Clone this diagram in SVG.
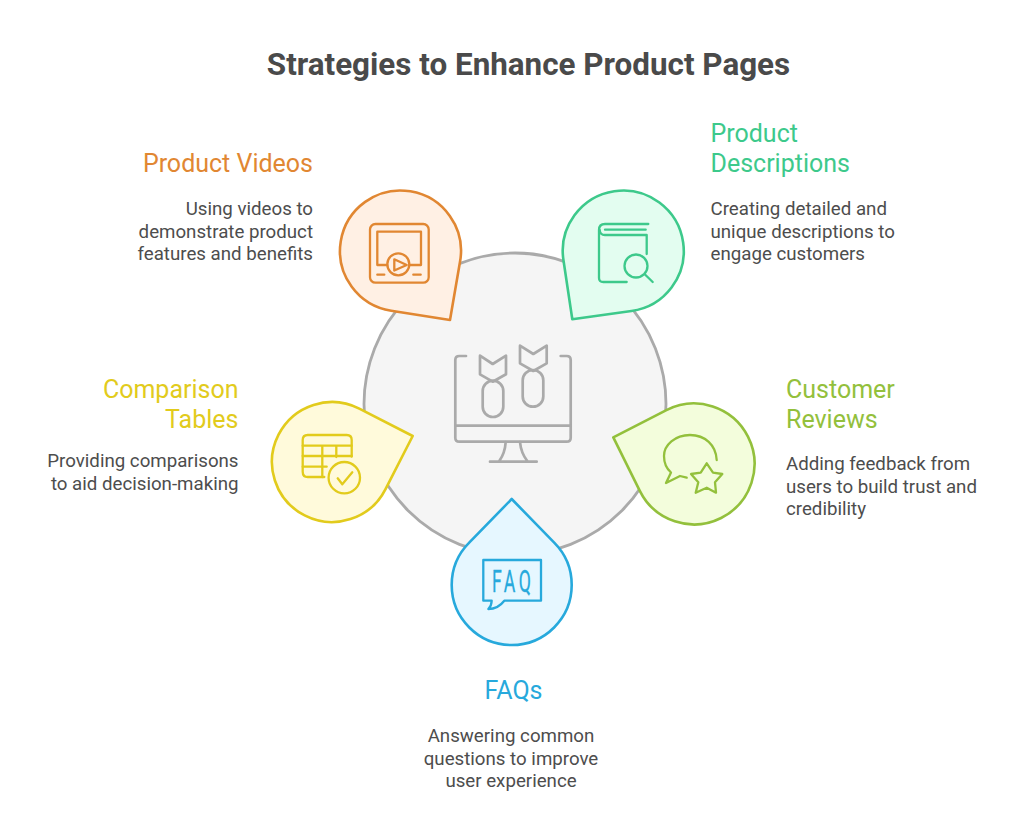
<svg xmlns="http://www.w3.org/2000/svg" width="1024" height="828" viewBox="0 0 1024 828">
<style>
text{font-family:Roboto,"Liberation Sans",sans-serif}
.title{font-size:31.4px;font-weight:700;fill:#4a4a4a}
.h{font-size:25px;font-weight:400}
.b{font-size:18.7px;fill:#4d4d4d}
.e{text-anchor:end}
.m{text-anchor:middle}
.p{stroke-width:2.6;stroke-linejoin:round}
.ic{fill:none;stroke-width:2.3;stroke-linecap:round;stroke-linejoin:round}
.o{stroke:#e18732}.g{stroke:#3dc98b}.y{stroke:#e2cb1c}.l{stroke:#93c03c}.c{stroke:#27a9dc}.n{stroke:#aaaaaa}
</style>
<rect width="1024" height="828" fill="#ffffff"/>
<text class="title" x="528.5" y="75" text-anchor="middle">Strategies to Enhance Product Pages</text>
<g id="center">
<circle cx="515" cy="404" r="151" fill="#f5f5f5" stroke="#aaaaaa" stroke-width="2.8"/>
<g class="ic n" style="stroke-width:2.7">
<path d="M466 356H459.3Q455.3 356 455.3 360V437.7Q455.3 441.7 459.3 441.7H566.7Q570.7 441.7 570.7 437.7V360Q570.7 356 566.7 356H560.7"/>
<path d="M455.3 425.7H570.7M505.7 442Q505 453 499.3 461M520 442Q521 453 527.3 461M490 461.7H536.7"/>
<rect x="482.7" y="380.7" width="20.6" height="36.3" rx="10.3"/>
<path d="M480 355.7L492.7 364L506 355.7V374.3L492.7 381.7L480 374.3Z"/>
<rect x="522.7" y="370" width="20.6" height="36.7" rx="10.3"/>
<path d="M520 345.7L533.3 354L546.7 345.7V363.3L533.3 371L520 363.3Z"/>
</g>
</g>
<g id="product-videos">
<path class="p" d="M460.1 261.3A60.5 60.5 0 1 0 391.2 310.8L450 320Z" fill="#fff0e4" stroke="#e18732"/>
<g class="ic o">
<rect x="370" y="224" width="58.7" height="58.7" rx="5.5"/>
<path d="M387.3 265H377.3V231.7H421V265H409.5"/>
<circle cx="398.3" cy="264.3" r="11"/>
<path d="M394.3 259.3L406.7 265L394.3 270.5Z"/>
<path d="M377.3 274.7H384.3M413.3 274.7H420.7"/>
</g>
<text class="h e" x="313" y="171.7" fill="#e18732">Product Videos</text>
<text class="b e" x="313" y="215">Using videos to</text>
<text class="b e" x="313" y="237.5">demonstrate product</text>
<text class="b e" x="313" y="260">features and benefits</text>
</g>
<g id="product-descriptions">
<path class="p" d="M631.4 311A60.5 60.5 0 1 0 563.5 260.5L572.3 319.3Z" fill="#e3fdf0" stroke="#3dc98b"/>
<g class="ic g">
<path d="M648.3 224H605Q599 224 599 230V278Q599 282 603.3 282H626.7"/>
<path d="M645.7 229.7H605M599.7 230Q600 235 605 235H646.7V254"/>
<circle cx="636" cy="266" r="11.5"/>
<path d="M645 274.5L652.7 282"/>
</g>
<text class="h" x="710.5" y="141.7" fill="#3dc98b">Product</text>
<text class="h" x="710.5" y="171.7" fill="#3dc98b">Descriptions</text>
<text class="b" x="710.5" y="215">Creating detailed and</text>
<text class="b" x="710.5" y="237.5">unique descriptions to</text>
<text class="b" x="710.5" y="260">engage customers</text>
</g>
<g id="comparison-tables">
<path class="p" d="M385.4 489.3A60 60 0 1 1 359.3 408.6L412.7 436Z" fill="#fffadb" stroke="#e2cb1c"/>
<g class="ic y">
<path d="M324.3 477H307.7Q302.7 477 302.7 471.7V440Q302.7 435 307.7 435H346.7Q351.7 435 351.7 440V456.7"/>
<path d="M302.7 445.7H351.7M302.7 456H351.7M302.7 466.7H326.7M322.3 445.7V477M336.3 445.7V457"/>
<circle cx="344.3" cy="477.7" r="15.7"/>
<path d="M337.7 478.3L342.3 484.3L352.3 472.3"/>
</g>
<text class="h e" x="238.5" y="397.7" fill="#e2cb1c">Comparison</text>
<text class="h e" x="238.5" y="427.7" fill="#e2cb1c">Tables</text>
<text class="b e" x="238.5" y="467">Providing comparisons</text>
<text class="b e" x="238.5" y="489.5">to aid decision-making</text>
</g>
<g id="customer-reviews">
<path class="p" d="M639.8 490.8A60.5 60.5 0 1 0 666.4 410.1L613.3 437.3Z" fill="#f3fddc" stroke="#93c03c"/>
<g class="ic l">
<path d="M716.7 460C716 445 705 435 690 435C675 435 664 445 664 456C664 463 667 469 671 472.5L666 483L680 476L686.7 477.7"/>
<path d="M706.7 463.3L713 472.7L722.3 474L715 482.3L716 492.7L706.7 487.7L695.7 492.7L698.3 482.3L691 474L700.7 472.7Z"/>
</g>
<text class="h" x="786" y="397.7" fill="#93c03c">Customer</text>
<text class="h" x="786" y="427.7" fill="#93c03c">Reviews</text>
<text class="b" x="786" y="470">Adding feedback from</text>
<text class="b" x="786" y="492.5">users to build trust and</text>
<text class="b" x="786" y="515">credibility</text>
</g>
<g id="faqs">
<path class="p" d="M469.2 542.7A60 60 0 1 0 554.2 542.7L511.7 499Z" fill="#e6f7ff" stroke="#27a9dc"/>
<g class="ic c">
<path d="M483.3 560H541V600.7H504.3Q498 609 488.3 609Q491.5 606 491.7 600.7H483.3Z"/>
</g>
<text transform="translate(492 592) scale(.58 1)" font-size="30.5" fill="#27a9dc" stroke="#27a9dc" stroke-width=".3" letter-spacing="6">FAQ</text>
<text class="h m" x="513.5" y="698.7" fill="#27a9dc">FAQs</text>
<text class="b m" x="511" y="742">Answering common</text>
<text class="b m" x="511" y="764.5">questions to improve</text>
<text class="b m" x="511" y="787">user experience</text>
</g>
</svg>
